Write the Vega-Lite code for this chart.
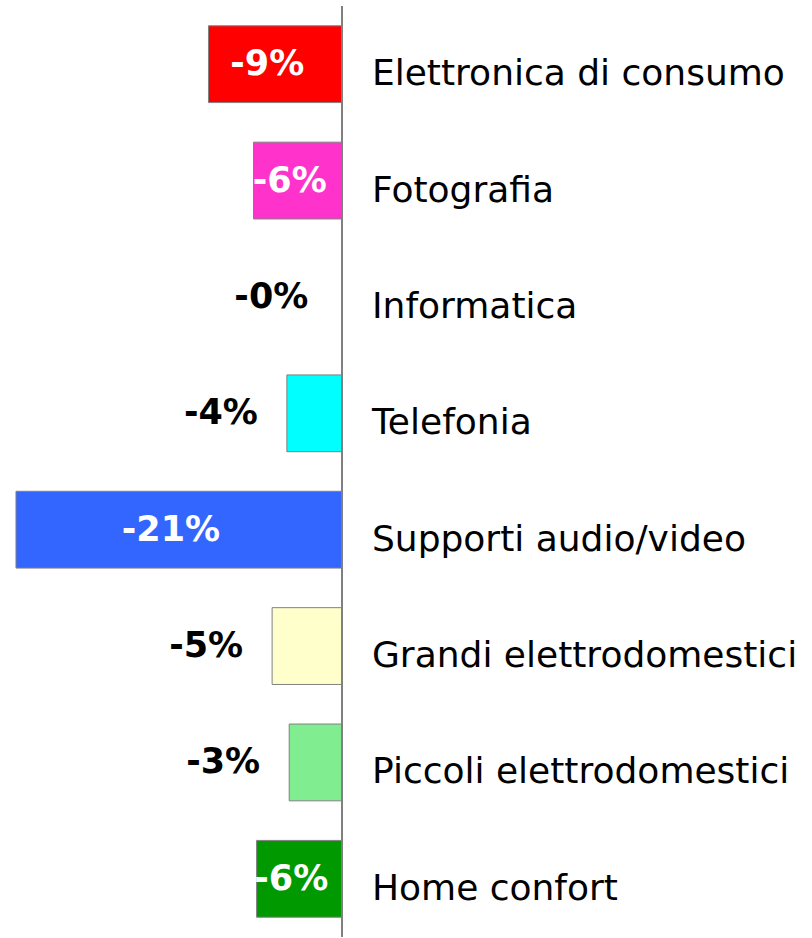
{
  "$schema": "https://vega.github.io/schema/vega-lite/v6.json",
  "width": 812,
  "height": 938,
  "autosize": {"type": "fit", "contains": "padding"},
  "padding": {"top": 5, "left": 0, "right": 0, "bottom": 0},
  "background": "white",
  "config": {"view": {"stroke": null}},
  "data": {
    "values": [
      {"cat": "Elettronica di consumo", "value": -8.6, "label": "-9%"},
      {"cat": "Fotografia", "value": -5.7, "label": "-6%"},
      {"cat": "Informatica", "value": -0.3, "label": "-0%"},
      {"cat": "Telefonia", "value": -3.55, "label": "-4%"},
      {"cat": "Supporti audio/video", "value": -21, "label": "-21%"},
      {"cat": "Grandi elettrodomestici", "value": -4.5, "label": "-5%"},
      {"cat": "Piccoli elettrodomestici", "value": -3.4, "label": "-3%"},
      {"cat": "Home confort", "value": -5.5, "label": "-6%"}
    ]
  },
  "encoding": {
    "y": {
      "field": "cat",
      "type": "nominal",
      "sort": null,
      "axis": null,
      "scale": {
        "domain": ["Elettronica di consumo", "Fotografia", "Informatica", "Telefonia", "Supporti audio/video", "Grandi elettrodomestici", "Piccoli elettrodomestici", "Home confort"],
        "paddingInner": 0.34, "paddingOuter": 0.17
      }
    }
  },
  "layer": [
    {
      "mark": {"type": "bar", "stroke": "#808080", "strokeWidth": 1},
      "transform": [{"filter": "datum.cat !== 'Informatica'"}],
      "encoding": {
        "x": {"field": "value", "type": "quantitative", "axis": null,
              "scale": {"domain": [-22.03, 30.28], "nice": false, "zero": false}},
        "x2": {"datum": 0},
        "color": {
          "field": "cat", "type": "nominal", "legend": null,
          "scale": {
            "domain": ["Elettronica di consumo", "Fotografia", "Informatica", "Telefonia", "Supporti audio/video", "Grandi elettrodomestici", "Piccoli elettrodomestici", "Home confort"],
            "range": ["#FF0000", "#FF33CC", "#FFFFFF", "#00FFFF", "#3366FF", "#FFFFCC", "#80EE90", "#009900"]
          }
        }
      }
    },
    {
      "mark": {"type": "rule", "color": "#808080", "strokeWidth": 1.5},
      "encoding": {"x": {"datum": 0}, "y": null}
    },
    {
      "mark": {"type": "text", "align": "center", "baseline": "middle", "dx": -8, "font": "DejaVu Sans", "fontWeight": "bold", "fontSize": 35, "color": "white"},
      "transform": [{"filter": "datum.value < -5"}, {"calculate": "datum.value / 2", "as": "mid"}],
      "encoding": {
        "x": {"field": "mid", "type": "quantitative"},
        "text": {"field": "label"}
      }
    },
    {
      "mark": {"type": "text", "align": "right", "baseline": "middle", "dx": -29, "font": "DejaVu Sans", "fontWeight": "bold", "fontSize": 35, "color": "black"},
      "transform": [{"filter": "datum.value >= -5"}],
      "encoding": {
        "x": {"field": "value", "type": "quantitative"},
        "text": {"field": "label"}
      }
    },
    {
      "mark": {"type": "text", "align": "left", "baseline": "middle", "dx": 30, "dy": 10, "font": "DejaVu Sans", "fontSize": 36, "color": "black"},
      "encoding": {
        "x": {"datum": 0},
        "text": {"field": "cat"}
      }
    }
  ]
}
